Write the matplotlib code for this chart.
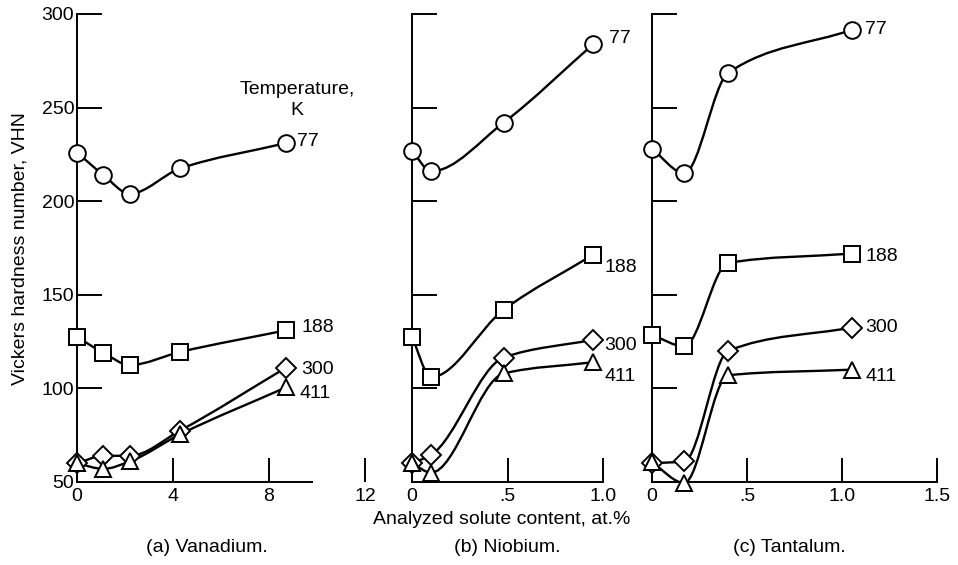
import numpy as np
import matplotlib
matplotlib.use('Agg')
import matplotlib.pyplot as plt
from matplotlib.path import Path
from matplotlib.patches import PathPatch

plt.rcParams['font.family'] = ['Liberation Sans', 'DejaVu Sans']

# Data (hardness, VHN vs solute content, at.%)
temps = ['77', '188', '300', '411']
markers = ['o', 's', 'D', '^']

va_x = [0, 1.1, 2.2, 4.3, 8.7]
va_77 = [226, 214, 204, 217.5, 231]
va_188 = [127.5, 119, 112.5, 119.5, 131]
va_300 = [60, 64, 64, 77.5, 111]
va_411 = [60, 57, 61, 75.5, 100.5]

nb_x = [0, 0.1, 0.48, 0.95]
nb_77 = [227, 216, 242, 284]
nb_188 = [127.5, 106, 142, 171.5]
nb_300 = [60, 64.5, 116.5, 126]
nb_411 = [60, 55, 108, 114]

ta_x = [0, 0.17, 0.40, 1.05]
ta_77 = [228, 215, 268.5, 291.5]
ta_188 = [128.5, 122.5, 167, 172]
ta_300 = [60, 61, 120, 132.5]
ta_411 = [60.5, 49.5, 107, 110]

# label offsets (points) for the temperature tags at the end of each curve
va_tags = [(8, 1), (11, 2), (11, -1), (10, -4)]
nb_tags = [(11, 4), (8, -9), (8, -4), (8, -10)]
ta_tags = [(10, 0), (10, -2), (10, 0), (10, -5)]


def smooth(ax, x, y):
    # monotone (Fritsch-Carlson) curve through the measured points, as beziers
    x = np.asarray(x, float)
    y = np.asarray(y, float)
    h = np.diff(x)
    d = np.diff(y) / h
    m = np.zeros_like(y)
    m[0], m[-1] = d[0], d[-1]
    for i in range(1, len(y) - 1):
        if d[i - 1] * d[i] > 0:
            w1 = 2 * h[i] + h[i - 1]
            w2 = h[i] + 2 * h[i - 1]
            m[i] = (w1 + w2) / (w1 / d[i - 1] + w2 / d[i])
    verts = [(x[0], y[0])]
    codes = [Path.MOVETO]
    for i in range(len(x) - 1):
        verts += [(x[i] + h[i] / 3, y[i] + m[i] * h[i] / 3),
                  (x[i + 1] - h[i] / 3, y[i + 1] - m[i + 1] * h[i] / 3),
                  (x[i + 1], y[i + 1])]
        codes += [Path.CURVE4] * 3
    ax.add_patch(PathPatch(Path(verts, codes), fill=False, lw=1.7,
                           ec='black', clip_on=False, zorder=2))


def panel(ax, x, series, tags, xlim, xticks, xticklabels, axis_end, ylabels):
    ax.set_xlim(*xlim)
    ax.set_ylim(50, 300)
    for s in ['top', 'right']:
        ax.spines[s].set_visible(False)
    ax.spines['bottom'].set_bounds(0, axis_end)
    for s in ['left', 'bottom']:
        ax.spines[s].set_linewidth(1.4)
    ax.set_xticks(xticks)
    ax.set_xticklabels(xticklabels, fontsize=14)
    ax.set_yticks([50, 100, 150, 200, 250, 300])
    if ylabels:
        ax.set_yticklabels(['50', '100', '150', '200', '250', '300'], fontsize=14)
    else:
        ax.set_yticklabels([])
    ax.tick_params(axis='x', direction='in', length=17, width=1.4, pad=4)
    ax.tick_params(axis='y', direction='in', length=18, width=1.4, pad=2)
    ax.patch.set_visible(False)
    for ys, m, t, off in zip(series, markers, temps, tags):
        smooth(ax, x, ys)
        ax.plot(x, ys, ls='none', marker=m, ms=12 if m != 'D' else 10,
                mfc='white', mec='black', mew=1.4, clip_on=False, zorder=3)
        ax.annotate(t, (x[-1], ys[-1]), xytext=off, textcoords='offset points',
                    fontsize=14, va='center', ha='left', annotation_clip=False)


fig = plt.figure(figsize=(9.58, 5.65), dpi=100)
W, H = 958, 565
bottom = 1 - 482 / H
height = (482 - 14) / H

ax1 = fig.add_axes([77 / W, bottom, 288 / W, height])
ax2 = fig.add_axes([412 / W, bottom, 191 / W, height])
ax3 = fig.add_axes([652 / W, bottom, 285 / W, height])

panel(ax1, va_x, [va_77, va_188, va_300, va_411], va_tags, (0, 12),
      [0, 4, 8, 12], ['0', '4', '8', '12'], 9.8, True)
panel(ax2, nb_x, [nb_77, nb_188, nb_300, nb_411], nb_tags, (0, 1.0),
      [0, 0.5, 1.0], ['0', '.5', '1.0'], 1.0, False)
panel(ax3, ta_x, [ta_77, ta_188, ta_300, ta_411], ta_tags, (0, 1.5),
      [0, 0.5, 1.0, 1.5], ['0', '.5', '1.0', '1.5'], 1.5, False)

fig.text(20 / W, 1 - 249 / H, 'Vickers hardness number, VHN', rotation=90,
         ha='center', va='center', fontsize=14)
fig.text(297 / W, 1 - 100 / H, 'Temperature,\nK', ha='center', va='center',
         fontsize=14, linespacing=1.3)
fig.text(502 / W, 1 - 520 / H, 'Analyzed solute content, at.%', ha='center',
         va='center', fontsize=14)
fig.text(207 / W, 1 - 547 / H, '(a) Vanadium.', ha='center', va='center', fontsize=14)
fig.text(507 / W, 1 - 547 / H, '(b) Niobium.', ha='center', va='center', fontsize=14)
fig.text(789 / W, 1 - 547 / H, '(c) Tantalum.', ha='center', va='center', fontsize=14)

fig.savefig('out.png', dpi=100)
